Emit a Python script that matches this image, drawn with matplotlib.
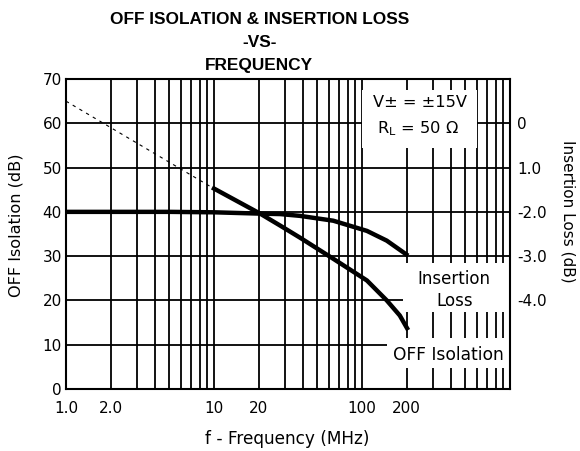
import matplotlib
matplotlib.use('Agg')
import matplotlib.pyplot as plt
from matplotlib.patches import Rectangle
from matplotlib.ticker import LogLocator, NullFormatter, FixedLocator, FixedFormatter

plt.rcParams['font.family'] = ['DejaVu Sans']
plt.rcParams['mathtext.fontset'] = 'custom'
plt.rcParams['mathtext.rm'] = 'DejaVu Sans'

# data (left axis units, dB)
iso_freq = [9.7, 20.5, 28, 38, 64, 108, 147, 180, 205]
iso_db = [45.5, 39.6, 36.9, 34.2, 29.4, 24.5, 20.0, 16.6, 13.3]
iso_ext_freq = [1, 9.7]
iso_ext_db = [65.0, 45.5]
il_freq = [1, 5, 10, 20.5, 28, 38, 64, 108, 147, 205]
il_db = [40.0, 40.0, 39.9, 39.6, 39.5, 39.1, 38.0, 35.7, 33.5, 30.1]

x_ticks = [1, 2, 10, 20, 100, 200]
x_labels = ['1.0', '2.0', '10', '20', '100', '200']
y_ticks = [0, 10, 20, 30, 40, 50, 60, 70]
# right axis: insertion loss labels as printed, sitting on left-axis levels
il_tick_pos = [60, 50, 40, 30, 20]
il_tick_labels = ['0', '1.0', '-2.0', '-3.0', '-4.0']

fig = plt.figure(figsize=(5.8, 4.51), dpi=100)
ax = fig.add_axes([0.1138, 0.1375, 0.7655, 0.6873])
ax.set_xscale('log')
ax.set_xlim(1, 1000)
ax.set_ylim(0, 70)
ax.set_axisbelow(True)

ax.xaxis.set_major_locator(FixedLocator(x_ticks))
ax.xaxis.set_major_formatter(FixedFormatter(x_labels))
ax.xaxis.set_minor_locator(LogLocator(base=10, subs=range(1, 10)))
ax.xaxis.set_minor_formatter(NullFormatter())
ax.set_yticks(y_ticks)
ax.grid(which='both', axis='x', color='black', lw=1.3)
ax.grid(which='major', axis='y', color='black', lw=1.3)
ax.tick_params(which='both', length=0, labelsize=11)
ax.tick_params(axis='x', pad=9)
ax.tick_params(axis='y', pad=3)
for s in ax.spines.values():
    s.set_linewidth(1.5)

# white label boxes over the grid
ax.add_patch(Rectangle((100, 54.4), 495, 13.2, facecolor='white', edgecolor='none', zorder=1))
ax.add_patch(Rectangle((189, 17.3), 811, 11.2, facecolor='white', edgecolor='none', zorder=1))
ax.add_patch(Rectangle((147, 4.7), 853, 6.8, facecolor='white', edgecolor='none', zorder=1))

ax.plot(iso_ext_freq, iso_ext_db, color='black', lw=0.8, ls=(0, (3, 4)), zorder=3)
ax.plot(iso_freq, iso_db, color='black', lw=3.2, zorder=3, solid_capstyle='butt',
        solid_joinstyle='round')
ax.plot(il_freq, il_db, color='black', lw=3.2, zorder=3, solid_capstyle='butt',
        solid_joinstyle='round')

ax.text(246, 64.7, 'V± = ±15V', ha='center', va='center', fontsize=11.7, zorder=4)
ax.text(240, 58.9, r'R$_\mathrm{L}$ = 50 Ω', ha='center', va='center', fontsize=11.7, zorder=4)
ax.text(420, 22.4, 'Insertion\nLoss', ha='center', va='center', fontsize=12,
        linespacing=1.3, zorder=4)
ax.text(385, 7.6, 'OFF Isolation', ha='center', va='center', fontsize=12.3, zorder=4)

ax.set_xlabel('f - Frequency (MHz)', fontsize=12.2)
ax.xaxis.set_label_coords(0.498, -0.132)
ax.set_ylabel('OFF Isolation (dB)', fontsize=11.6)
ax.yaxis.set_label_coords(-0.095, 0.529)

ax2 = ax.twinx()
ax2.set_ylim(0, 70)
ax2.set_yticks(il_tick_pos)
ax2.set_yticklabels(il_tick_labels)
ax2.tick_params(length=0, labelsize=11, pad=5)
ax2.set_ylabel('Insertion Loss (dB)', fontsize=11, rotation=-90, va='center')
ax2.yaxis.set_label_coords(1.131, 0.574)
for s in ax2.spines.values():
    s.set_visible(False)

title_lines = ['OFF ISOLATION & INSERTION LOSS', '-VS-', 'FREQUENCY']
for line, yb in zip(title_lines, [0.947, 0.896, 0.845]):
    fig.text(0.447, yb, line, ha='center', va='baseline', fontsize=12.4,
             fontweight='bold', family='Liberation Sans')

fig.savefig('out.png', dpi=100)
